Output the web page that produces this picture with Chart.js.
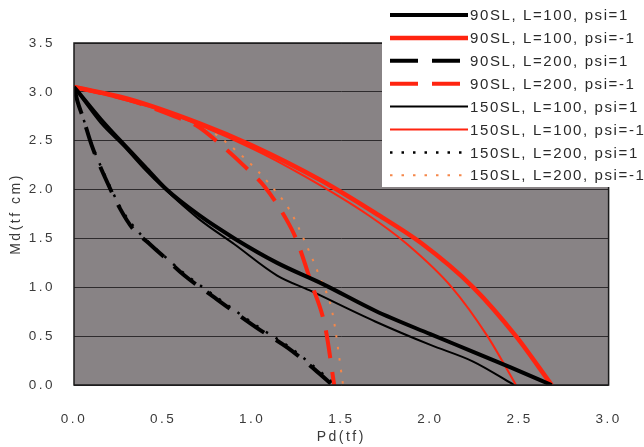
<!DOCTYPE html>
<html>
<head>
<meta charset="utf-8">
<script src="https://cdn.jsdelivr.net/npm/chart.js@4"></script>
<style>
  html, body { margin: 0; padding: 0; background: #fff; }
  #wrap { width: 644px; height: 447px; position: relative; }
</style>
</head>
<body>
<div id="wrap"><canvas id="c"></canvas></div>
<script>
// ---- data (Pd in tf, Md in tf cm) ----
const xTicks = [0, 0.5, 1.0, 1.5, 2.0, 2.5, 3.0];
const yTicks = [0, 0.5, 1.0, 1.5, 2.0, 2.5, 3.0, 3.5];

const labels = [
  '90SL, L=100, psi=1',
  '90SL, L=100, psi=-1',
  '90SL, L=200, psi=1',
  '90SL, L=200, psi=-1',
  '150SL, L=100, psi=1',
  '150SL, L=100, psi=-1',
  '150SL, L=200, psi=1',
  '150SL, L=200, psi=-1'
];

// 90SL L=100 psi=1
const pd90a = [0, 0.05, 0.15, 0.26, 0.4, 0.52, 0.7, 0.9, 1.14, 1.4, 1.69, 2.0, 2.24, 2.45, 2.68];
const md90a = [3.05, 2.94, 2.72, 2.5, 2.23, 2.0, 1.74, 1.5, 1.25, 1.03, 0.76, 0.52, 0.34, 0.18, 0];
// 90SL L=100 psi=-1
const pd90b = [0, 0.3, 0.7, 1.0, 1.38, 1.69, 1.95, 2.24, 2.48, 2.68];
const md90b = [3.05, 2.93, 2.68, 2.45, 2.1, 1.76, 1.45, 1.0, 0.5, 0];
// 90SL L=200 psi=1
const pd90c = [0, 0.02, 0.05, 0.1, 0.18, 0.26, 0.33, 0.42, 0.5, 0.62, 0.8, 1.03, 1.2, 1.35, 1.45];
const md90c = [3.05, 2.9, 2.74, 2.45, 2.1, 1.8, 1.6, 1.45, 1.32, 1.12, 0.88, 0.58, 0.38, 0.16, 0];
// 90SL L=200 psi=-1
const pd90d = [0, 0.3, 0.55, 0.7, 0.81, 0.95, 1.07, 1.19, 1.25, 1.33, 1.41, 1.46];
const md90d = [3.05, 2.92, 2.76, 2.64, 2.48, 2.25, 2.03, 1.7, 1.48, 1.05, 0.59, 0];
// 150SL L=100 psi=1
const pd150a = [0, 0.05, 0.15, 0.28, 0.4, 0.5, 0.7, 0.9, 1.14, 1.32, 1.69, 2.0, 2.24, 2.47];
const md150a = [3.05, 2.92, 2.68, 2.44, 2.2, 2.02, 1.7, 1.44, 1.12, 0.97, 0.65, 0.41, 0.24, 0];
// 150SL L=100 psi=-1
const pd150b = [0, 0.5, 1.0, 1.3, 1.65, 1.87, 2.12, 2.32, 2.48];
const md150b = [3.05, 2.8, 2.42, 2.13, 1.74, 1.44, 1.0, 0.5, 0];
// 150SL L=200 psi=1
const pd150c = [0, 0.02, 0.05, 0.1, 0.18, 0.26, 0.34, 0.42, 0.5, 0.62, 0.8, 1.03, 1.2, 1.36, 1.47];
const md150c = [3.05, 2.9, 2.74, 2.46, 2.12, 1.82, 1.61, 1.46, 1.33, 1.14, 0.9, 0.6, 0.4, 0.17, 0];
// 150SL L=200 psi=-1
const pd150d = [0, 0.3, 0.6, 0.75, 0.97, 1.1, 1.21, 1.3, 1.38, 1.45, 1.51];
const md150d = [3.05, 2.92, 2.74, 2.62, 2.3, 2.05, 1.79, 1.45, 1.1, 0.74, 0];

const pts = (xs, ys) => xs.map((x, i) => ({ x: x, y: ys[i] }));

const RED = '#ff2410';
const ORANGE = '#f5874a';

const series = [
  { data: pts(pd90a, md90a),   color: '#000',  width: 4,   dash: [] },
  { data: pts(pd90b, md90b),   color: RED,     width: 4.5, dash: [] },
  { data: pts(pd90c, md90c),   color: '#000',  width: 4,   dash: [28, 14] },
  { data: pts(pd90d, md90d),   color: RED,     width: 4,   dash: [28, 14] },
  { data: pts(pd150a, md150a), color: '#000',  width: 2,   dash: [] },
  { data: pts(pd150b, md150b), color: RED,     width: 2,   dash: [] },
  { data: pts(pd150c, md150c), color: '#000',  width: 2.5, dash: [2.5, 9] },
  { data: pts(pd150d, md150d), color: ORANGE,  width: 2,   dash: [2.5, 9] }
];

// plot background + frame
const frame = {
  id: 'frame',
  beforeDraw(chart) {
    const { ctx, chartArea: a } = chart;
    ctx.letterSpacing = '2.5px';
    ctx.save();
    ctx.fillStyle = '#888385';
    ctx.fillRect(a.left, a.top, a.right - a.left, a.bottom - a.top);
    ctx.restore();
  },
  afterDatasetsDraw(chart) {
    const { ctx, chartArea: a } = chart;
    ctx.save();
    ctx.strokeStyle = '#1a1a1a';
    ctx.lineWidth = 1.5;
    ctx.strokeRect(a.left, a.top, a.right - a.left, a.bottom - a.top);
    ctx.restore();
  }
};

// legend box drawn in the top right corner
const legendBox = {
  id: 'legendBox',
  afterDraw(chart) {
    const ctx = chart.ctx;
    ctx.save();
    ctx.fillStyle = '#fff';
    ctx.fillRect(382, 0, 262, 187);
    ctx.font = '15px "Liberation Sans", Arial, sans-serif';
    ctx.letterSpacing = '1.6px';
    ctx.textBaseline = 'middle';
    chart.data.datasets.forEach((ds, i) => {
      const y = 15 + i * 22.9;
      ctx.beginPath();
      ctx.strokeStyle = ds.borderColor;
      ctx.lineWidth = ds.borderWidth;
      ctx.setLineDash(ds.borderDash || []);
      ctx.moveTo(390, y);
      ctx.lineTo(468, y);
      ctx.stroke();
      ctx.setLineDash([]);
      ctx.fillStyle = '#2a2a2a';
      ctx.fillText(ds.label, 470, y + 1);
    });
    ctx.restore();
  }
};

new Chart(document.getElementById('c'), {
  type: 'scatter',
  data: {
    datasets: series.map((s, i) => ({
      label: labels[i],
      data: s.data,
      showLine: true,
      borderColor: s.color,
      backgroundColor: s.color,
      borderWidth: s.width,
      borderDash: s.dash,
      pointRadius: 0,
      cubicInterpolationMode: 'monotone',
      fill: false
    }))
  },
  options: {
    responsive: true,
    maintainAspectRatio: false,
    animation: false,
    layout: { padding: { top: 43, right: 27, left: 0, bottom: 0 } },
    plugins: {
      legend: { display: false },
      tooltip: { enabled: false }
    },
    scales: {
      x: {
        type: 'linear',
        min: 0, max: 3,
        afterBuildTicks: s => { s.ticks = xTicks.map(v => ({ value: v })); },
        afterFit: s => { s.height = 62; },
        grid: { display: false, drawTicks: false },
        border: { display: false },
        ticks: {
          padding: 26,
          color: '#3a3a3a',
          font: { size: 13.5, family: '"Liberation Sans", Arial, sans-serif' },
          callback: v => Number(v).toFixed(1)
        },
        title: {
          display: true,
          text: 'Pd(tf)',
          color: '#3a3a3a',
          font: { size: 14, family: '"Liberation Sans", Arial, sans-serif' },
          padding: { top: 0, bottom: 1 }
        }
      },
      y: {
        type: 'linear',
        min: 0, max: 3.5,
        afterBuildTicks: s => { s.ticks = yTicks.map(v => ({ value: v })); },
        afterFit: s => { s.width = 74; },
        grid: { color: '#2e2b2d', lineWidth: 1, drawTicks: false },
        border: { display: false },
        ticks: {
          padding: 19,
          color: '#3a3a3a',
          font: { size: 13.5, family: '"Liberation Sans", Arial, sans-serif' },
          callback: v => Number(v).toFixed(1)
        },
        title: {
          display: true,
          text: 'Md(tf cm)',
          color: '#3a3a3a',
          font: { size: 14, family: '"Liberation Sans", Arial, sans-serif' },
          padding: { top: 8, bottom: 0 }
        }
      }
    }
  },
  plugins: [frame, legendBox]
});
</script>
</body>
</html>
